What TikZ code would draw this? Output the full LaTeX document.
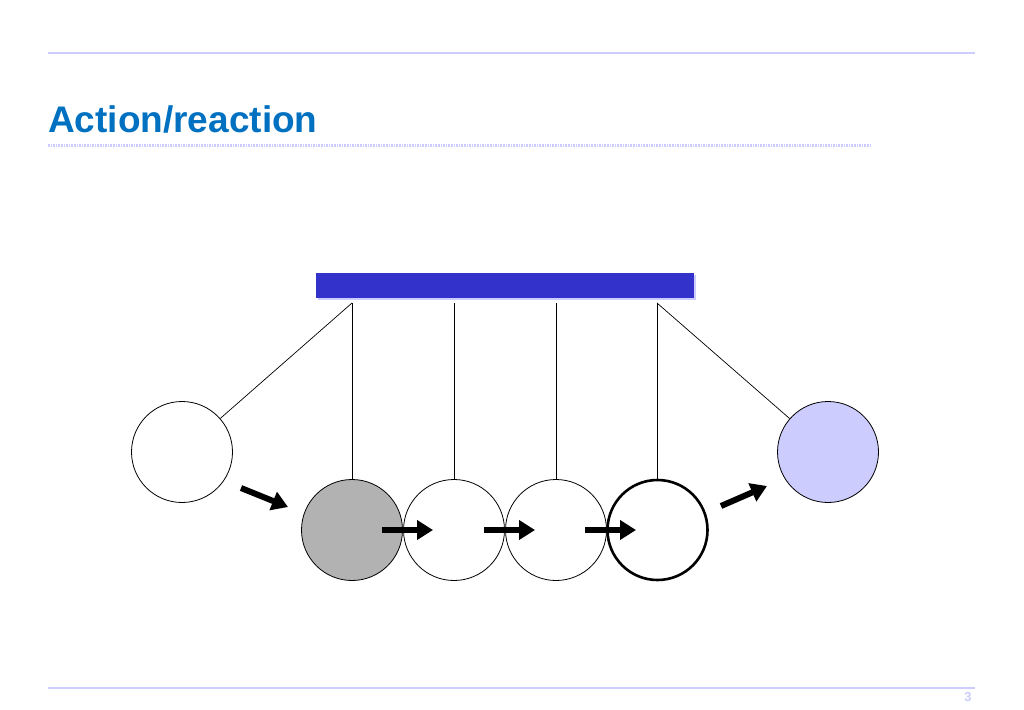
\documentclass[tikz,border=0pt]{standalone}
\usepackage{fontspec}
\setmainfont{Liberation Sans}
\usetikzlibrary{arrows.meta}
\definecolor{titleblue}{RGB}{0,112,192}
\definecolor{lav}{RGB}{204,204,255}
\definecolor{barblue}{RGB}{51,51,204}
\definecolor{ballgray}{RGB}{178,178,178}
\begin{document}
\begin{tikzpicture}[x=1pt,y=-1pt,
  ball/.style={circle,draw=black,line width=0.8pt,minimum size=101pt,inner sep=0pt},
  wire/.style={draw=black,line width=0.7pt},
  push/.style={line width=6pt,-{Triangle[length=16pt,width=19pt]}},
  rule/.style={draw=lav,line width=1.3pt}]
\useasboundingbox (0,0) rectangle (1024,709);
\draw[rule] (48,53) -- (975,53);
\draw[rule] (48,688) -- (975,688);
\draw[draw=lav,line width=3pt,dash pattern=on 1.6pt off 1pt] (48,145) -- (872,145);
\node[anchor=base west,inner sep=0pt,text=titleblue,font=\fontsize{37}{40}\selectfont\bfseries] (title) at (48,132) {Action/reaction};
\node[anchor=base,inner sep=0pt,text=lav,font=\fontsize{13}{15}\selectfont\bfseries] (pg) at (968,701) {3};
% bar
\fill[lav] (318,275) rectangle (696,300);
\node[fill=barblue,minimum width=378pt,minimum height=25pt,inner sep=0pt,anchor=north west] (bar) at (316,273) {};
% pivots
\coordinate (p1) at (352,303);
\coordinate (p2) at (454,303);
\coordinate (p3) at (556,303);
\coordinate (p4) at (657,303);
% balls
\node[ball,fill=white] (L) at (182,452) {};
\node[ball,fill=lav] (R) at (828,452) {};
\node[ball,fill=ballgray] (b1) at (352,530) {};
\node[ball,fill=white] (b2) at (454,530) {};
\node[ball,fill=white] (b3) at (556,530) {};
\node[ball,fill=none,line width=2.6pt,minimum size=100pt] (b4) at (657.5,530) {};
% wires
\draw[wire] (p1) -- (L);
\draw[wire] (p4) -- (R);
\draw[wire] (p1) -- (b1.north);
\draw[wire] (p2) -- (b2.north);
\draw[wire] (p3) -- (b3.north);
\draw[wire] (p4) -- (p4 |- b4.north);
% arrows
\coordinate (a1s) at (241,488); \coordinate (a1e) at (288,507);
\coordinate (a2s) at (382,530); \coordinate (a2e) at (433,530);
\coordinate (a3s) at (484,530); \coordinate (a3e) at (535,530);
\coordinate (a4s) at (585,530); \coordinate (a4e) at (636,530);
\coordinate (a5s) at (721,506); \coordinate (a5e) at (767,486);
\draw[push] (a1s) -- (a1e);
\draw[push] (a2s) -- (a2e);
\draw[push] (a3s) -- (a3e);
\draw[push] (a4s) -- (a4e);
\draw[push] (a5s) -- (a5e);
\end{tikzpicture}
\end{document}
